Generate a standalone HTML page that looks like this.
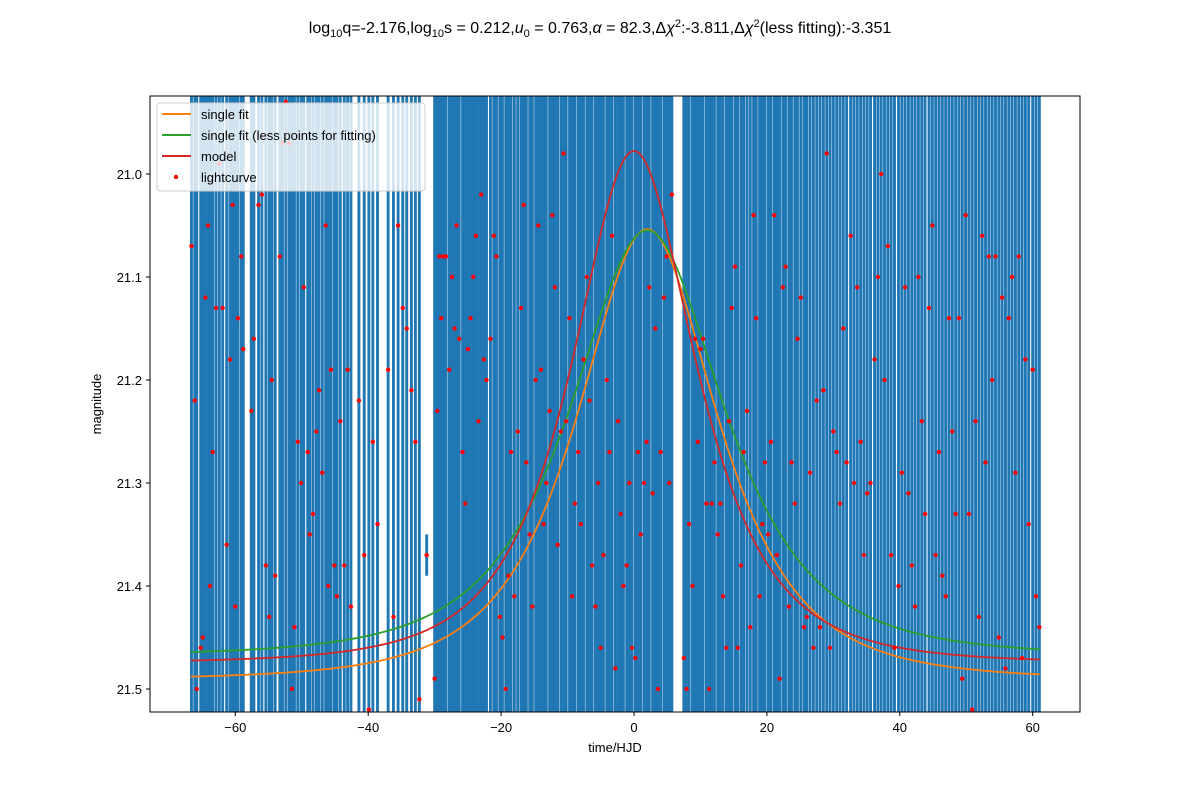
<!DOCTYPE html>
<html><head><meta charset="utf-8"><style>
html,body{margin:0;padding:0;background:#fff;overflow:hidden;width:1200px;height:800px;}
svg{display:block;}
svg text{font-family:"Liberation Sans","DejaVu Sans",sans-serif;}
</style></head><body>
<svg id="chart" width="1200" height="800" xmlns="http://www.w3.org/2000/svg">
<rect width="1200" height="800" fill="#fff"/>
<text x="600" y="33" text-anchor="middle" font-size="16">log<tspan font-size="11" dy="4">10</tspan><tspan dy="-4">q=-2.176,log</tspan><tspan font-size="11" dy="4">10</tspan><tspan dy="-4">s = 0.212,</tspan><tspan font-style="italic">u</tspan><tspan font-size="11" dy="4">0</tspan><tspan dy="-4"> = 0.763,</tspan><tspan font-style="italic">α</tspan> = 82.3,Δ<tspan font-style="italic">χ</tspan><tspan font-size="11" dy="-6">2</tspan><tspan dy="6">:-3.811,Δ</tspan><tspan font-style="italic">χ</tspan><tspan font-size="11" dy="-6">2</tspan><tspan dy="6">(less fitting):-3.351</tspan></text>
<defs><clipPath id="clip"><rect x="150" y="96" width="930" height="616"/></clipPath></defs>
<g id="bars" clip-path="url(#clip)"></g>
<g id="curves" clip-path="url(#clip)"></g>
<g id="dots" clip-path="url(#clip)"></g>
<rect x="150" y="96" width="930" height="616" fill="none" stroke="#000" stroke-width="1"/>
<g id="axes"></g>
<text x="615" y="752" text-anchor="middle" font-size="13">time/HJD</text>
<text x="101" y="404" text-anchor="middle" font-size="13" transform="rotate(-90 101 404)">magnitude</text>
<g>
<rect x="157" y="103" width="268" height="88" rx="3" fill="#fff" fill-opacity="0.8" stroke="#ccc"/>
<line x1="162" y1="114" x2="191" y2="114" stroke="#ff7f0e" stroke-width="2"/>
<text x="201" y="119" font-size="13">single fit</text>
<line x1="162" y1="135" x2="191" y2="135" stroke="#2ca02c" stroke-width="2"/>
<text x="201" y="140" font-size="13">single fit (less points for fitting)</text>
<line x1="162" y1="156" x2="191" y2="156" stroke="#d62728" stroke-width="2"/>
<text x="201" y="161" font-size="13">model</text>
<circle cx="176" cy="177" r="2.2" fill="red"/>
<text x="201" y="182" font-size="13">lightcurve</text>
</g>
</svg>
<script>
const times=[-66.6,-66.1,-65.8,-65.2,-64.9,-64.5,-64.1,-63.8,-63.4,-62.9,
-62.4,-61.9,-61.3,-60.8,-60.4,-60.0,-59.6,-59.1,-58.8,-57.6,
-57.2,-56.5,-56.0,-55.4,-54.9,-54.5,-54.0,-53.3,-52.9,-52.4,
-51.9,-51.5,-51.1,-50.6,-50.1,-49.7,-49.1,-48.8,-48.3,-47.8,
-47.4,-46.9,-46.4,-46.0,-45.6,-45.1,-44.7,-44.2,-43.6,-43.1,
-42.6,-41.4,-40.6,-39.9,-39.3,-38.6,-37.0,-36.2,-35.5,-34.8,
-34.2,-33.5,-32.9,-32.3,-31.2,-30.0,-29.6,-29.3,-29.0,-28.7,
-28.3,-27.8,-27.4,-27.0,-26.7,-26.3,-25.8,-25.4,-25.0,-24.6,
-24.2,-23.8,-23.4,-23.0,-22.6,-22.2,-21.6,-21.1,-20.7,-20.2,
-19.8,-19.3,-18.9,-18.5,-18.0,-17.5,-17.0,-16.6,-16.2,-15.7,
-15.3,-14.8,-14.4,-14.0,-13.6,-13.2,-12.7,-12.3,-11.9,-11.5,
-11.0,-10.6,-10.2,-9.7,-9.3,-8.9,-8.4,-8.0,-7.6,-7.1,
-6.7,-6.3,-5.8,-5.4,-5.0,-4.6,-4.1,-3.7,-3.3,-2.8,
-2.4,-2.0,-1.6,-1.1,-0.7,-0.3,0.2,0.6,1.0,1.5,
1.9,2.3,2.8,3.2,3.6,4.0,4.5,4.9,5.3,5.7,
7.5,7.9,8.3,8.8,9.2,9.6,10.0,10.4,10.9,11.3,
11.7,12.1,12.6,13.0,13.4,13.9,14.3,14.7,15.2,15.6,
16.1,16.5,17.0,17.5,18.0,18.4,18.9,19.3,19.7,20.2,
20.6,21.1,21.5,21.9,22.4,22.8,23.3,23.7,24.2,24.6,
25.1,25.6,26.0,26.5,27.0,27.5,28.0,28.5,29.0,29.5,
30.0,30.5,31.0,31.5,32.0,32.6,33.1,33.6,34.1,34.6,
35.1,35.6,36.2,36.7,37.2,37.7,38.2,38.7,39.2,39.8,
40.3,40.8,41.3,41.8,42.3,42.8,43.3,43.8,44.4,44.9,
45.4,45.9,46.4,46.9,47.4,47.9,48.4,48.9,49.4,49.9,
50.4,50.9,51.4,51.9,52.4,52.9,53.4,53.9,54.4,54.9,
55.4,55.9,56.4,56.9,57.4,57.9,58.4,58.9,59.4,60.0,
60.5,61.0];
const mags=[21.07,21.22,21.50,21.46,21.45,21.12,21.05,21.40,21.27,21.13,
20.99,21.13,21.36,21.18,21.03,21.42,21.14,21.08,21.17,21.23,
21.16,21.03,21.02,21.38,21.43,21.20,21.39,21.08,20.97,20.93,
20.97,21.50,21.44,21.26,21.30,21.11,21.27,21.35,21.33,21.25,
21.21,21.29,21.05,21.40,21.19,21.38,21.41,21.24,21.38,21.19,
21.42,21.22,21.37,21.52,21.26,21.34,21.19,21.43,21.05,21.13,
21.15,21.21,21.26,21.51,21.37,21.49,21.23,21.08,21.14,21.08,
21.08,21.19,21.10,21.15,21.05,21.16,21.27,21.32,21.17,21.14,
21.10,21.06,21.24,21.02,21.18,21.20,21.16,21.06,21.08,21.43,
21.45,21.50,21.39,21.27,21.41,21.25,21.13,21.03,21.28,21.35,
21.42,21.20,21.05,21.19,21.34,21.30,21.23,21.04,21.11,21.36,
21.25,20.98,21.24,21.14,21.41,21.32,21.27,21.34,21.18,21.10,
21.22,21.38,21.42,21.30,21.46,21.37,21.20,21.27,21.06,21.48,
21.24,21.33,21.40,21.38,21.30,21.46,21.47,21.27,21.35,21.30,
21.26,21.11,21.31,21.15,21.50,21.27,21.12,21.08,21.30,21.02,
21.47,21.50,21.34,21.40,21.16,21.26,21.17,21.16,21.32,21.50,
21.32,21.28,21.35,21.32,21.41,21.46,21.24,21.13,21.09,21.46,
21.38,21.27,21.23,21.44,21.04,21.14,21.41,21.34,21.28,21.35,
21.26,21.04,21.37,21.49,21.11,21.09,21.42,21.28,21.32,21.16,
21.12,21.44,21.43,21.29,21.46,21.22,21.44,21.21,20.98,21.46,
21.25,21.27,21.32,21.15,21.28,21.06,21.30,21.11,21.26,21.37,
21.31,21.30,21.18,21.10,21.00,21.20,21.07,21.37,21.46,21.40,
21.29,21.11,21.31,21.38,21.42,21.10,21.24,21.33,21.13,21.05,
21.37,21.27,21.39,21.41,21.14,21.25,21.33,21.14,21.49,21.04,
21.33,21.52,21.24,21.43,21.06,21.28,21.08,21.20,21.08,21.45,
21.12,21.48,21.14,21.10,21.29,21.08,21.47,21.18,21.34,21.19,
21.41,21.44];
const errs=[.8,.8,.8,.8,.8,.8,.8,.8,.8,.8,
.8,.8,.8,.8,.8,.8,.8,.8,.8,.8,
.8,.8,.8,.8,.8,.8,.8,.8,.8,.8,
.8,.8,.8,.8,.8,.8,.8,.8,.8,.8,
.8,.8,.8,.8,.8,.8,.8,.8,.8,.8,
.8,.8,.8,.8,.8,.8,.8,.8,.8,.8,
.8,.8,.8,.8,.02,.8,.8,.8,.8,.8,
.8,.8,.8,.8,.8,.8,.8,.8,.8,.8,
.8,.8,.8,.8,.8,.8,.8,.8,.8,.8,
.8,.8,.8,.8,.8,.8,.8,.8,.8,.8,
.8,.8,.8,.8,.8,.8,.8,.8,.8,.8,
.8,.8,.8,.8,.8,.8,.8,.8,.8,.8,
.8,.8,.8,.8,.8,.8,.8,.8,.8,.8,
.8,.8,.8,.8,.8,.8,.8,.8,.8,.8,
.8,.8,.8,.8,.8,.8,.8,.8,.8,.8,
.8,.8,.8,.8,.8,.8,.8,.8,.8,.8,
.8,.8,.8,.8,.8,.8,.8,.8,.8,.8,
.8,.8,.8,.8,.8,.8,.8,.8,.8,.8,
.8,.8,.8,.8,.8,.8,.8,.8,.8,.8,
.8,.8,.8,.8,.8,.8,.8,.8,.8,.8,
.8,.8,.8,.8,.8,.8,.8,.8,.8,.8,
.8,.8,.8,.8,.8,.8,.8,.8,.8,.8,
.8,.8,.8,.8,.8,.8,.8,.8,.8,.8,
.8,.8,.8,.8,.8,.8,.8,.8,.8,.8,
.8,.8,.8,.8,.8,.8,.8,.8,.8,.8,
.8,.8,.8,.8,.8,.8,.8,.8,.8,.8,
.8,.8];
// curve parameters: [t0, u0, tE, baseline]
const modelParams=[0,0.763,13,21.475];
const singleFitParams=[2,0.83,14,21.491];
const lessFitParams=[2,0.86,15,21.468];
const xTicks=[-60,-40,-20,0,20,40,60];
const yTicks=[21.0,21.1,21.2,21.3,21.4,21.5];

const NS="http://www.w3.org/2000/svg";
const X=t=>634+t*6.645;
const Y=m=>174+(m-21.0)*1030;
const clampY=v=>Math.max(96,Math.min(712,v));
function mk(tag,attrs,parent){const e=document.createElementNS(NS,tag);for(const k in attrs)e.setAttribute(k,attrs[k]);parent.appendChild(e);return e;}

const bars=document.getElementById('bars');
times.forEach((t,i)=>{
 const l=mk('line',{x1:X(t),x2:X(t),y1:clampY(Y(mags[i]-errs[i])),y2:clampY(Y(mags[i]+errs[i])),stroke:'#1f77b4','stroke-width':2.9},bars);
 
 
});

function A(u){return (u*u+2)/(u*Math.sqrt(u*u+4));}
function curve(p,color,name){
 let d='';
 for(let t=-66.7;t<=61.1;t+=0.25){
  const u=Math.sqrt(p[1]*p[1]+((t-p[0])/p[2])**2);
  const m=p[3]-2.5*Math.log10(A(u));
  d+=(d?'L':'M')+X(t).toFixed(2)+','+clampY(Y(m)).toFixed(2);
 }
 const path=mk('path',{d:d,fill:'none',stroke:color,'stroke-width':1.8},document.getElementById('curves'));
 
 
}
curve(singleFitParams,'#ff7f0e','single-fit-curve');
curve(lessFitParams,'#2ca02c','less-points-fit-curve');
curve(modelParams,'#d62728','model-curve');

const dots=document.getElementById('dots');
times.forEach((t,i)=>{
 const c=mk('circle',{cx:X(t),cy:clampY(Y(mags[i])),r:2.2,fill:'red'},dots);
 
 
});

const axes=document.getElementById('axes');
xTicks.forEach(v=>{
 mk('line',{x1:X(v),x2:X(v),y1:712,y2:716,stroke:'#000'},axes);
 const tx=mk('text',{x:X(v),y:732,'text-anchor':'middle','font-size':13},axes);
 tx.textContent=v<0?'\u2212'+(-v):String(v);
 
 
});
yTicks.forEach(v=>{
 mk('line',{x1:146,x2:150,y1:Y(v),y2:Y(v),stroke:'#000'},axes);
 const tx=mk('text',{x:142,y:Y(v)+5,'text-anchor':'end','font-size':13},axes);
 tx.textContent=v.toFixed(1);
 
 
});
</script>
</body></html>
